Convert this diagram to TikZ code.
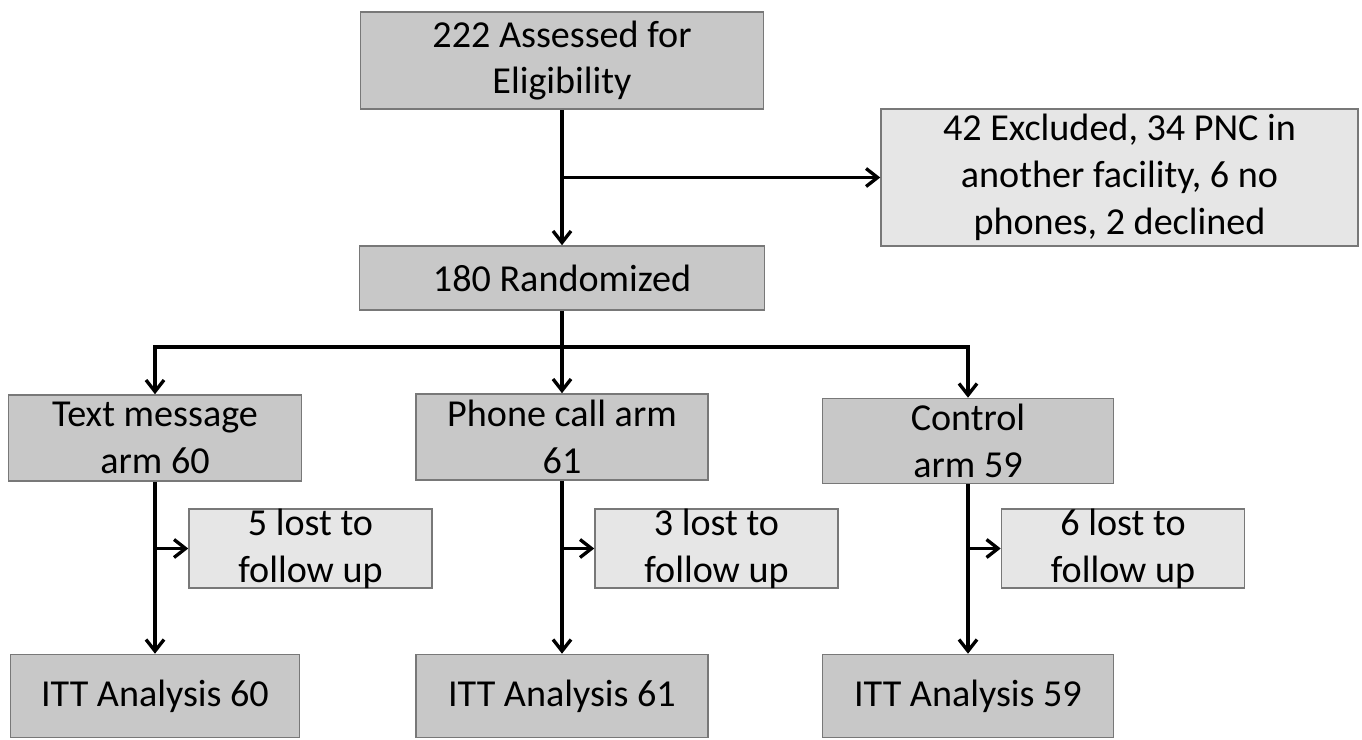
\documentclass[tikz,border=0pt]{standalone}
\usepackage{fontspec}
\setmainfont{Carlito}
\usetikzlibrary{arrows.meta}

\definecolor{boxdark}{RGB}{200,200,200}
\definecolor{boxlight}{RGB}{230,230,230}
\definecolor{boxline}{RGB}{120,120,120}

\begin{document}
\begin{tikzpicture}[x=0.02cm,y=-0.02cm,
  box/.style={draw=boxline,line width=0.9pt,fill=boxdark,align=center,inner sep=0pt,
    font=\fontsize{21.7}{26.6}\selectfont},
  lightbox/.style={box,fill=boxlight},
  arr/.style={line width=2.1pt,-{Straight Barb[length=2.3mm,width=3.6mm,line width=1.9pt]}},
  conn/.style={line width=2.1pt}]
\useasboundingbox (0,0) rectangle (1362,740);

% screening
\node[box,minimum width=8.06cm,minimum height=1.94cm] (assess) at (562,60.5) {222 Assessed for\\Eligibility};
\node[lightbox,minimum width=9.54cm,minimum height=2.74cm] (excl) at (1119.5,177.5) {42 Excluded, 34 PNC in\\another facility, 6 no\\phones, 2 declined};
\node[box,minimum width=8.1cm,minimum height=1.28cm] (rand) at (562,278) {180 Randomized};

% the three arms
\node[box,minimum width=5.86cm,minimum height=1.72cm] (textarm) at (155,438) {Text message\\arm 60};
\node[box,minimum width=5.84cm,minimum height=1.72cm] (phonearm) at (562,437) {Phone call arm\\61};
\node[box,minimum width=5.82cm,minimum height=1.7cm] (ctrlarm) at (968,441) {Control\\arm 59};

\foreach \n/\x/\k in {1/310.5/5,2/716.5/3,3/1123/6}
  \node[lightbox,minimum width=4.86cm,minimum height=1.54cm] (lost\n) at (\x,548.5) {\k\ lost to\\follow up};

\node[box,minimum width=5.78cm,minimum height=1.66cm] (itt1) at (155,696) {ITT Analysis 60};
\node[box,minimum width=5.84cm,minimum height=1.66cm] (itt2) at (562,696) {ITT Analysis 61};
\node[box,minimum width=5.82cm,minimum height=1.66cm] (itt3) at (968,696) {ITT Analysis 59};

% connectors
\coordinate (exsplit) at (assess.south |- excl.west);
\draw[arr] (assess.south) -- (rand.north);
\draw[arr] (exsplit) -- (excl.west);

\coordinate (hub) at (562,347);
\draw[conn] (rand.south) -- (hub);
\draw[arr] (hub) -| (textarm.north);
\draw[arr] (hub) -- (phonearm.north);
\draw[arr] (hub) -| (ctrlarm.north);

\draw[arr] (textarm.south) -- (itt1.north);
\draw[arr] (phonearm.south) -- (itt2.north);
\draw[arr] (ctrlarm.south) -- (itt3.north);

\coordinate (split1) at (textarm.south |- lost1.west);
\coordinate (split2) at (phonearm.south |- lost2.west);
\coordinate (split3) at (ctrlarm.south |- lost3.west);
\draw[arr] (split1) -- (lost1.west);
\draw[arr] (split2) -- (lost2.west);
\draw[arr] (split3) -- (lost3.west);
\end{tikzpicture}
\end{document}
